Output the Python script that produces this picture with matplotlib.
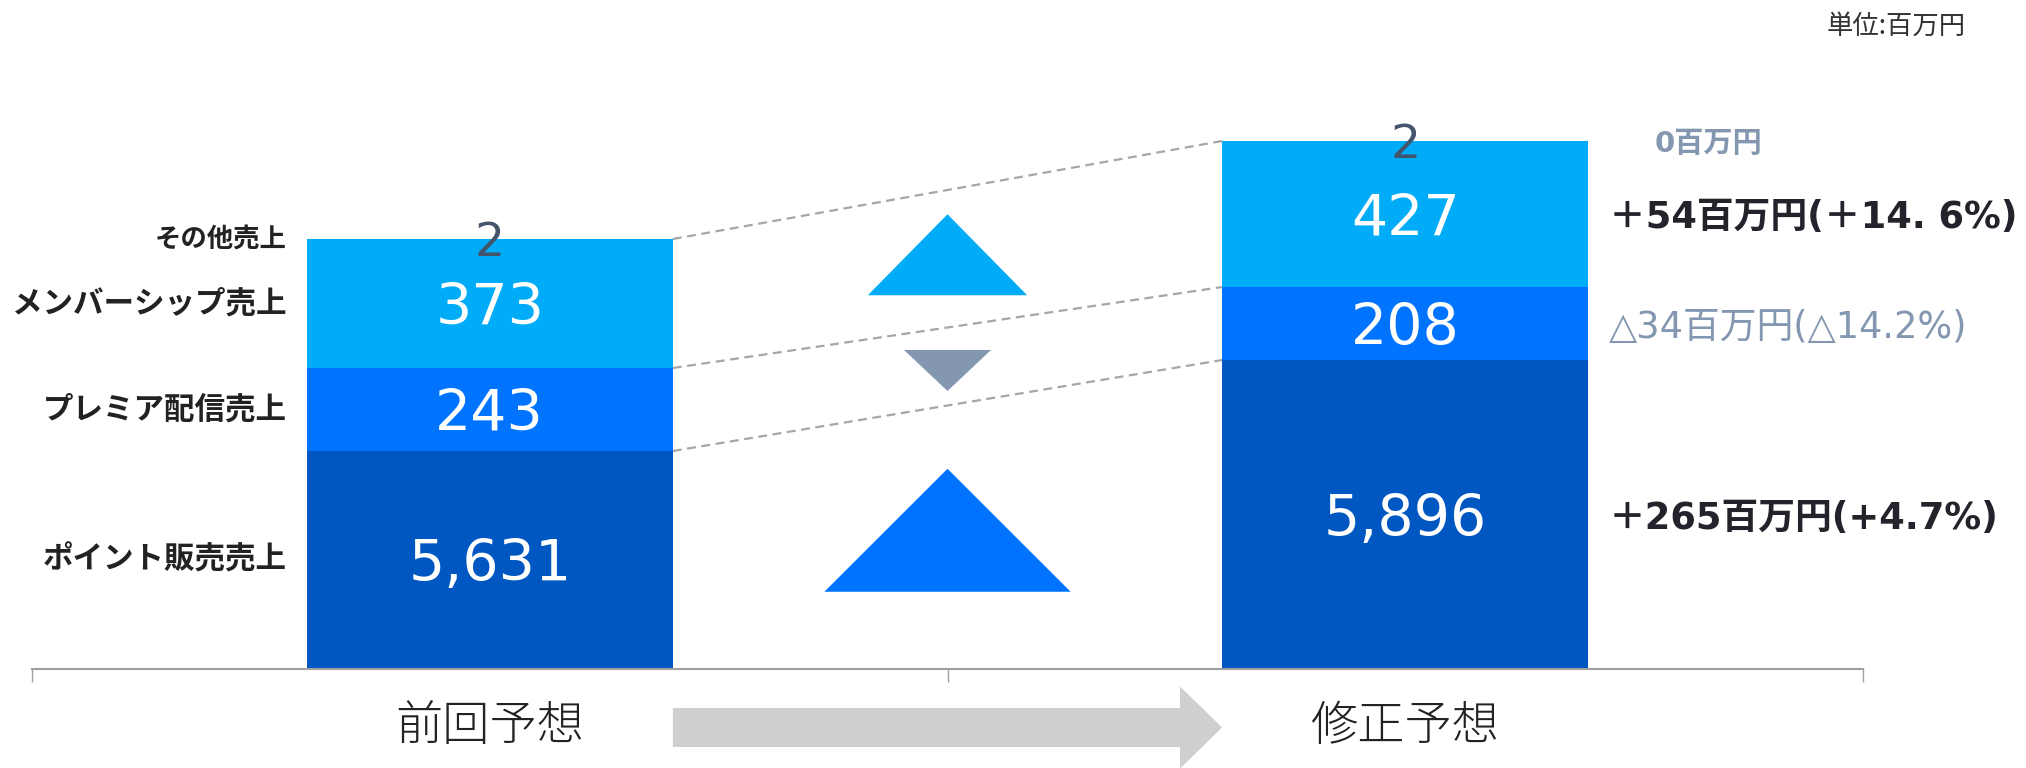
import numpy as np
import matplotlib
matplotlib.use('Agg')
import matplotlib.pyplot as plt
import matplotlib.patches as mpatches

plt.rcParams['font.family'] = ['Noto Sans CJK JP', 'DejaVu Sans']
latin_cjk = ['DejaVu Sans', 'Noto Sans CJK JP']

# Datos (la diapositiva no está a escala: alturas)
categorias = ['前回予想', '修正予想']
segmentos = ['ポイント販売売上', 'プレミア配信売上', 'メンバーシップ売上', 'その他売上']
valores_prev = [5631, 243, 373, 2]
valores_mod = [5896, 208, 427, 2]
etiquetas_prev = ['5,631', '243', '373', '2']
etiquetas_mod = ['5,896', '208', '427', '2']
altura_prev = [218, 83, 129, 0]
altura_mod = [309, 73, 146, 0]
variaciones = ['＋265百万円(+4.7%)', '△34百万円(△14.2%)', '＋54百万円(＋14. 6%)', '0百万円']
signo_var = [1, -1, 1, 0]

# Estilos
colores = ['#0057C2', '#0073FF', '#00ABF8', '#00ABF8']
col_var = ['#23232B', '#8497B0', '#23232B', '#8497B0']
peso_var = ['bold', 'normal', 'bold', 'bold']
col_tri = ['#0073FF', '#8497B0', '#00ABF8']
tam_tri = [(0.269, 123), (0.095, 41), (0.174, 81)]
ajuste_tri = [7, -4, 4]
ancho = 0.4

W, H = 2026, 768
fig = plt.figure(figsize=(W / 100, H / 100), dpi=100)
ax = fig.add_axes([32 / W, (H - 669) / H, (1863 - 32) / W, 669 / H])
ax.set_xlim(-0.5, 1.5)
ax.set_ylim(0, 669)

alturas = [altura_prev, altura_mod]
etiquetas = [etiquetas_prev, etiquetas_mod]
bases = []
for i in range(2):
    b = np.concatenate([[0], np.cumsum(alturas[i])])
    bases.append(b)
    for j in range(3):
        ax.bar(i, alturas[i][j], width=ancho, bottom=b[j], color=colores[j],
               edgecolor='none', zorder=2)
        ax.text(i, b[j] + alturas[i][j] / 2, etiquetas[i][j], ha='center',
                va='center_baseline', color='white', fontsize=41, family=latin_cjk,
                zorder=3)
    # その他売上 (valor casi nulo) en el borde superior
    ax.text(i, b[4], etiquetas[i][3], ha='center', va='center_baseline', color='#44546A',
            fontsize=34, family=latin_cjk, zorder=3)

# Líneas discontinuas entre barras
for j in range(1, 4):
    ax.plot([ancho / 2, 1 - ancho / 2], [bases[0][j], bases[1][j]], ls=(0, (4, 2.5)),
            color='#A6A6A6', lw=1.6, zorder=1)

# Triángulos de variación
for j in range(3):
    cy = ((bases[0][j] + altura_prev[j] / 2) + (bases[1][j] + altura_mod[j] / 2)) / 2
    cy += ajuste_tri[j]
    w, h = tam_tri[j]
    if signo_var[j] > 0:
        pts = [(0.5 - w / 2, cy - h / 2), (0.5 + w / 2, cy - h / 2), (0.5, cy + h / 2)]
    else:
        pts = [(0.5 - w / 2, cy + h / 2), (0.5 + w / 2, cy + h / 2), (0.5, cy - h / 2)]
    ax.add_patch(mpatches.Polygon(pts, closed=True, color=col_tri[j], lw=0))

# Etiquetas de segmentos a la izquierda
for j in range(4):
    y = bases[0][j] + altura_prev[j] / 2 if j < 3 else bases[0][4]
    ax.text(-ancho / 2 - 0.0215, y, segmentos[j], ha='right', va='center',
            color='#222222', fontsize=22 if j < 3 else 19, fontweight='bold')

# Variaciones a la derecha
for j in range(4):
    if j < 3:
        y = bases[1][j] + altura_mod[j] / 2
        x = 1 + ancho / 2 + 0.0226
    else:
        y = bases[1][4]
        x = 1 + ancho / 2 + 0.072
    ax.text(x, y, variaciones[j], ha='left', va='center_baseline', color=col_var[j],
            fontsize=26.5 if j < 3 else 21, fontweight=peso_var[j], family=latin_cjk)

# Eje
for s in ['top', 'right', 'left']:
    ax.spines[s].set_visible(False)
ax.spines['bottom'].set_color('#A0A0A0')
ax.spines['bottom'].set_linewidth(1.5)
ax.set_yticks([])
ax.set_xticks([-0.5, 0.5, 1.5])
ax.set_xticklabels([])
ax.tick_params(axis='x', length=9, width=1, color='#A0A0A0', direction='out')

for i, c in enumerate(categorias):
    ax.text(i, -58, c, ha='center', va='center', fontsize=34, color='#222222',
            fontweight='light', clip_on=False)

# Flecha gris
flecha = mpatches.FancyArrow(ancho / 2, -58.5, 1 - ancho, 0, width=39, head_width=82,
                             head_length=0.046, length_includes_head=True,
                             color='#D0CECE', lw=0, clip_on=False)
ax.add_patch(flecha)

fig.text(1966 / W, 1 - 26 / H, '単位:百万円', ha='right', va='center', fontsize=19,
         color='#333333')

plt.savefig('out.png', dpi=100)
